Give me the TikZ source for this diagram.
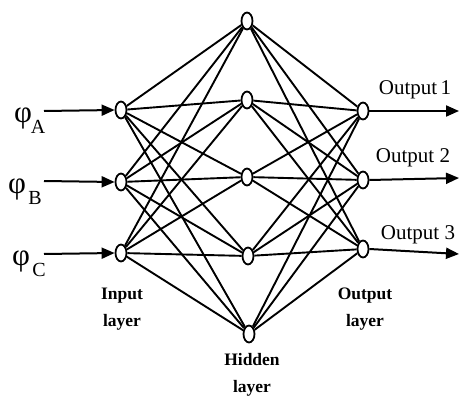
\documentclass[tikz,border=0pt]{standalone}
\usepackage{fontspec}
\setmainfont{Liberation Serif}
\usetikzlibrary{arrows.meta,shapes.geometric}
\begin{document}
\begin{tikzpicture}[x=1pt,y=-1pt,
  neuron/.style={draw,line width=1.8pt,ellipse,minimum width=11pt,minimum height=17pt,inner sep=0pt,fill=white},
  link/.style={line width=1.9pt},
  arr/.style={line width=2pt,-{Triangle[length=13pt,width=11pt]}},
  lab/.style={font=\fontsize{17.5}{27}\selectfont\bfseries,align=center},
  outlab/.style={font=\fontsize{21}{22}\selectfont},
  phil/.style={font=\fontsize{31}{31}\selectfont,inner sep=0pt},
  subl/.style={font=\fontsize{20}{20}\selectfont,anchor=base,inner sep=0pt}
]
\useasboundingbox (0,0) rectangle (460,396);
% nodes
\node[neuron] (i1) at (121,110) {};
\node[neuron] (i2) at (121,182) {};
\node[neuron] (i3) at (121,253) {};
\node[neuron] (h1) at (247,21) {};
\node[neuron] (h2) at (247,100) {};
\node[neuron] (h3) at (247,177) {};
\node[neuron] (h4) at (248,256) {};
\node[neuron] (h5) at (249,334) {};
\node[neuron] (o1) at (363,111) {};
\node[neuron] (o2) at (363,180) {};
\node[neuron] (o3) at (363,249) {};
% edges
\foreach \i in {1,2,3}{
  \foreach \h in {1,...,5}{
    \draw[link] (i\i) -- (h\h);
  }
}
\foreach \h in {1,...,5}{
  \foreach \o in {1,2,3}{
    \draw[link] (h\h) -- (o\o);
  }
}
% input labels and arrows
\node[phil,anchor=base] (pa) at (23,122) {φ};
\node[subl] (sa) at (38,133) {A};
\node[phil,anchor=base] (pb) at (17,193) {φ};
\node[subl] (sb) at (35,204) {B};
\node[phil,anchor=base] (pc) at (21,265) {φ};
\node[subl] (sc) at (39,276) {C};
\coordinate (ia) at (44,111);
\coordinate (ib) at (44,181);
\coordinate (ic) at (44,254);
\draw[arr] (ia) -- (i1.west);
\draw[arr] (ib) -- (i2.west);
\draw[arr] (ic) -- (i3.west);
% output arrows
\coordinate (ea) at (459,111);
\coordinate (eb) at (459,178);
\coordinate (ec) at (459,254);
\draw[arr] (o1.east) -- (ea);
\draw[arr] (o2.east) -- (eb);
\draw[arr] (o3.east) -- (ec);
\node[outlab] (l1) at (415,90) {Output\,1};
\node[outlab] (l2) at (413,158) {Output 2};
\node[outlab] (l3) at (418,235) {Output 3};
% layer labels
\node[lab] (li) at (122,309) {Input\\layer};
\node[lab] (lh) at (252,375) {Hidden\\layer};
\node[lab] (lo) at (365,309) {Output\\layer};
\end{tikzpicture}
\end{document}
